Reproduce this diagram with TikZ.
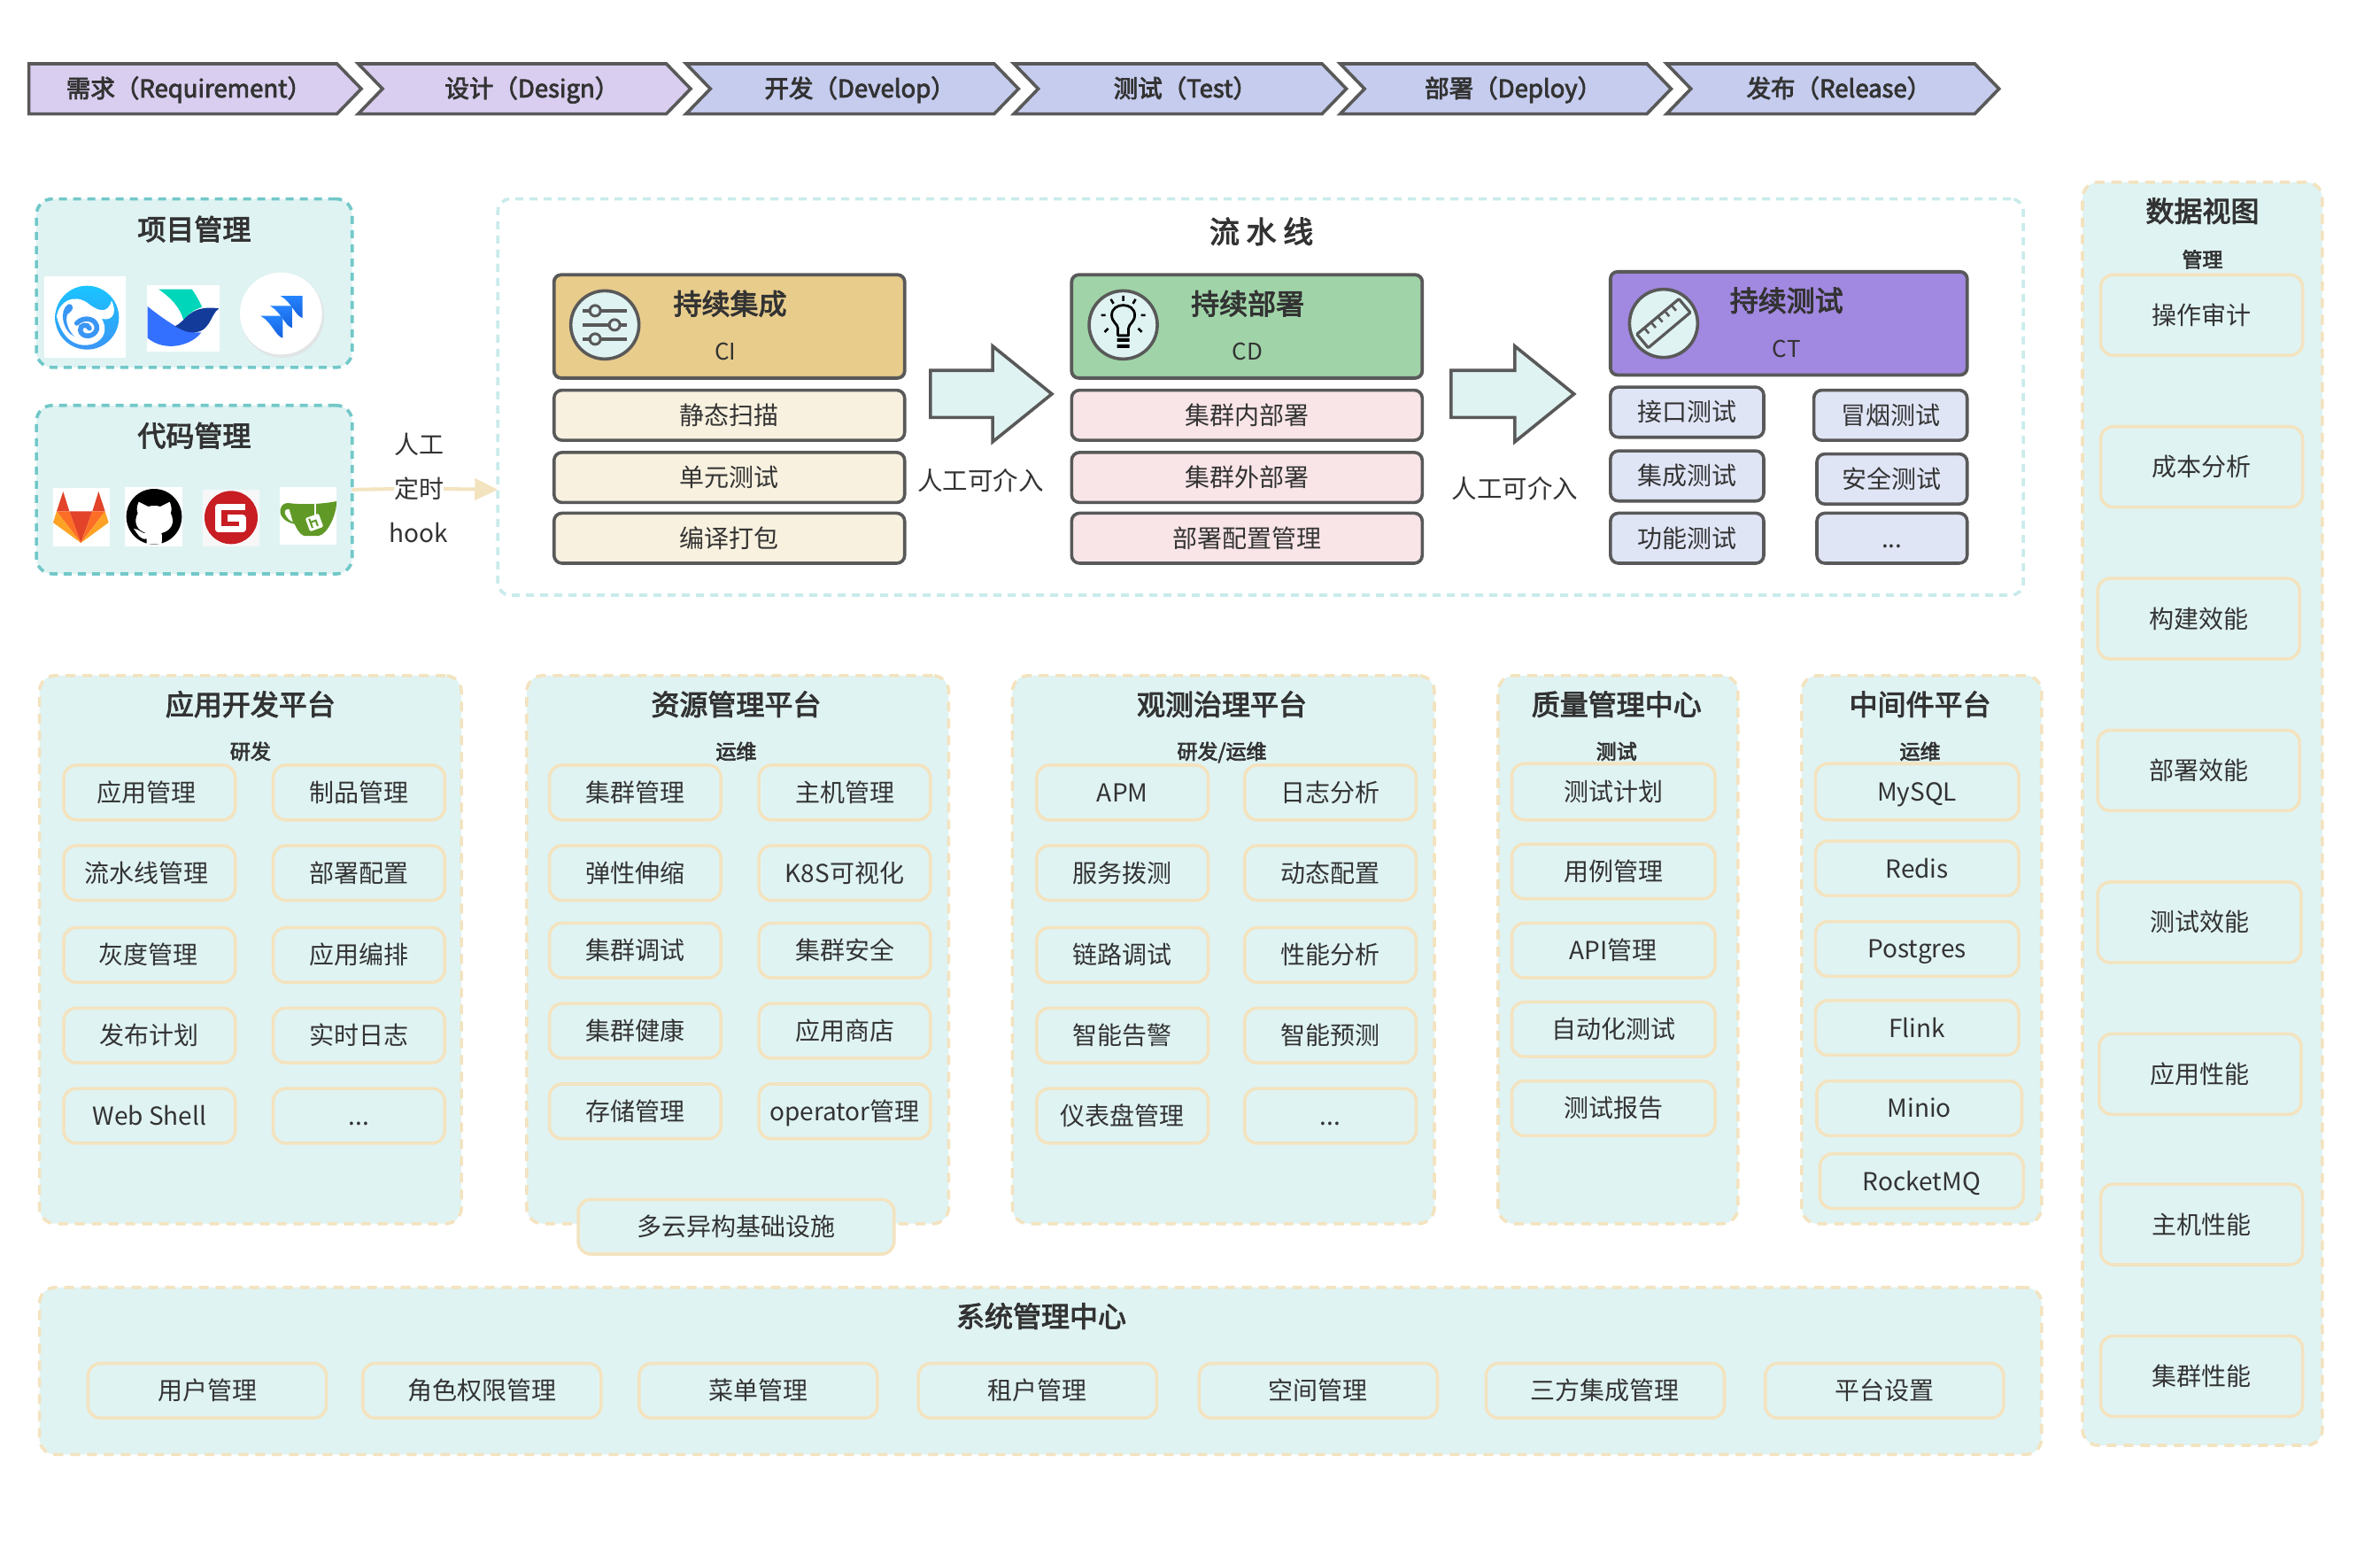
\documentclass[tikz,border=0pt]{standalone}
\usepackage{fontspec}
\setmainfont{Noto Sans CJK SC}
\newfontfamily\medf[FakeBold=3]{Noto Sans CJK SC}
\usetikzlibrary{arrows.meta,calc}
\definecolor{ink}{HTML}{333333}
\definecolor{edge}{HTML}{595959}
\definecolor{teal}{HTML}{E0F3F3}
\definecolor{tealedge}{HTML}{72C8C8}
\definecolor{tealpale}{HTML}{C9EBEB}
\definecolor{beige}{HTML}{F3E3BF}
\definecolor{chevA}{HTML}{D9CEF0}
\definecolor{chevB}{HTML}{C5CCEE}
\definecolor{headCI}{HTML}{E8CC8C}
\definecolor{headCD}{HTML}{A0D4A8}
\definecolor{headCT}{HTML}{A188E0}
\definecolor{itemCI}{HTML}{F8F1DF}
\definecolor{itemCD}{HTML}{F9E5E8}
\definecolor{itemCT}{HTML}{E0E5F6}
\definecolor{swirl}{HTML}{3A96F5}
\definecolor{swirltop}{HTML}{1AC4FF}
\definecolor{birdteal}{HTML}{00D6B9}
\definecolor{birdblue}{HTML}{3370FF}
\definecolor{birddark}{HTML}{133C9A}
\definecolor{jiraA}{HTML}{2684FF}
\definecolor{jiraB}{HTML}{1560DC}
\definecolor{labred}{HTML}{E24329}
\definecolor{laborange}{HTML}{FC6D26}
\definecolor{labyellow}{HTML}{FCA326}
\definecolor{giteered}{HTML}{C71D23}
\definecolor{giteagreen}{HTML}{609926}
\tikzset{
  base/.style={inner sep=0pt,outer sep=0pt,text=ink,align=center,font=\fontsize{28}{32}\selectfont,text height=24.5pt,text depth=3.5pt},
  item/.style={base,draw=beige,fill=teal,line width=3.6pt,rounded corners=14pt},
  plat/.style={base,draw=beige,fill=teal,line width=3.6pt,rounded corners=18pt,dash pattern=on 11pt off 8pt},
  tool/.style={base,draw=tealedge,fill=teal,line width=3.6pt,rounded corners=18pt,dash pattern=on 9pt off 7pt},
  pipe/.style={base,draw=tealpale,fill=white,line width=3.6pt,rounded corners=14pt,dash pattern=on 9pt off 7pt},
  head/.style={base,draw=edge,line width=3.8pt,rounded corners=8pt},
  sub/.style={base,draw=edge,line width=3.6pt,rounded corners=9pt},
  ttl/.style={base,font=\fontsize{32}{36}\medf,text height=28pt,text depth=4pt},
  tiny/.style={base,font=\fontsize{23}{26}\medf,text height=20pt,text depth=3pt},
  lbl/.style={base},
  chev/.style={draw=edge,line width=3.6pt,miter limit=10},
  chevtext/.style={base,font=\fontsize{27.5}{32}\medf},
  ring/.style={circle,draw=edge,fill=teal,line width=3.6pt,minimum size=77pt,inner sep=0pt},
  flow/.style={draw=edge,fill=teal,line width=3.6pt,miter limit=10},
  link/.style={draw=beige,line width=4pt},
  logoscope/.style={x=0.33333pt,y=-0.33333pt},
  pxscope/.style={x=1pt,y=-1pt}
}
% [style]{name}{x0}{y0}{x1}{y1}{text}
\newcommand\bx[7][item]{\node[#1,minimum width={(#5-#3)*1.71429pt},minimum height={(#6-#4)*1.71429pt}] (#2) at ({(#3+#5)/2},{(#4+#6)/2}) {#7};}
\newcommand\chv[7]{% name x0 notch x1 fill cx text
  \path[chev,fill=#5] (#2,42) -- ({#4-16},42) -- (#4,58.5) -- ({#4-16},75) -- (#2,75) -- (#3,58.5) -- cycle;
  \node[chevtext] (#1) at (#6,58) {#7};}
\begin{document}
\begin{tikzpicture}[x=1.71429pt,y=-1.71429pt]
\useasboundingbox (0,0) rectangle (1568,1030.13);
\fill[white] (0,0) rectangle (1568,1030.13);

% phases
\chv{c1}{19}{19}{238}{chevA}{124.5}{需求（Requirement）}
\chv{c2}{236}{252}{455}{chevA}{350.5}{设计（Design）}
\chv{c3}{452}{468}{671}{chevB}{566.5}{开发（Develop）}
\chv{c4}{668}{684}{887}{chevB}{781}{测试（Test）}
\chv{c5}{883}{899}{1101}{chevB}{997}{部署（Deploy）}
\chv{c6}{1098}{1114}{1317}{chevB}{1211.5}{发布（Release）}

% tool groups
\bx[tool]{proj}{24}{131}{232}{242}{}
\node[ttl] (projt) at (128,151) {项目管理};
\bx[tool]{code}{24}{267}{232}{378}{}
\node[ttl] (codet) at (128,287) {代码管理};

% logo: swirl
\begin{scope}[shift={(23.33,175)},logoscope]
\fill[white] (30,36) rectangle (305,312);
\shade[top color=swirltop,bottom color=swirl] (175,176) circle[radius=108];
\fill[white] (72,172) .. controls (80,120) and (130,95) .. (175,125) .. controls (205,150) and (245,170) .. (258,118) .. controls (278,160) and (262,188) .. (225,180) .. controls (245,215) and (235,250) .. (195,265) .. controls (145,280) and (92,255) .. (72,172) -- cycle;
\fill[swirl] (112,130) .. controls (132,130) and (132,150) .. (108,165) .. controls (100,190) and (112,220) .. (132,240) .. controls (92,222) and (78,150) .. (112,130) -- cycle;
\draw[swirl,line width=5.5pt,line cap=round] (140,195) .. controls (165,168) and (212,180) .. (208,215) .. controls (200,245) and (155,245) .. (152,218) .. controls (150,200) and (178,195) .. (183,212);
\end{scope}
% logo: bird
\begin{scope}[shift={(23.33,175)},logoscope]
\fill[white] (378,66) rectangle (623,290);
\fill[birdteal] (418,80) -- (530,80) .. controls (545,100) and (555,120) .. (565,140) .. controls (535,150) and (515,165) .. (503,188) .. controls (490,140) and (460,110) .. (418,80) -- cycle;
\fill[birdblue] (380,138) .. controls (420,170) and (450,190) .. (475,205) .. controls (500,220) and (530,228) .. (562,226) .. controls (530,270) and (440,295) .. (380,245) -- cycle;
\fill[birddark] (473,205) .. controls (510,190) and (520,130) .. (622,145) .. controls (590,165) and (595,235) .. (520,225) .. controls (505,222) and (490,215) .. (473,205) -- cycle;
\end{scope}
% logo: jira disc
\begin{scope}[shift={(23.33,175)},logoscope]
\fill[black!14,opacity=.55] (838,172) circle[radius=140];
\fill[black!10,opacity=.5] (836,168) circle[radius=142];
\fill[white] (832,162) circle[radius=139];
\foreach \dx/\dy in {0/0,-35/34,-67/68}{
\shade[shift={(\dx,\dy)},top color=jiraA,bottom color=jiraB]
 (830,102) -- (905,102) -- (905,177) .. controls (880,170) and (870,125) .. (830,102) -- cycle;}
\end{scope}

% logos in code group
\begin{scope}[shift={(29.17,315)},logoscope]
\fill[white] (29,33) rectangle (222,231);
\fill[labred] (64,45) -- (85,112) -- (42,112) -- cycle (184,45) -- (163,112) -- (206,112) -- cycle;
\fill[labred] (85,112) -- (163,112) -- (124,219) -- cycle;
\fill[laborange] (42,112) -- (85,112) -- (124,219) -- cycle (206,112) -- (163,112) -- (124,219) -- cycle;
\fill[labyellow] (42,112) -- (30,150) -- (124,219) -- cycle (206,112) -- (218,150) -- (124,219) -- cycle;
\fill[white] (274,30) rectangle (467,231);
\begin{scope}
\clip (274,30) rectangle (467,223);
\fill[black] (372,130) circle[radius=94];
\end{scope}
\fill[white] (320,80) -- (352,96) .. controls (365,92) and (380,92) .. (393,96) -- (425,80) .. controls (433,100) and (432,110) .. (428,118) .. controls (445,150) and (430,178) .. (397,186) .. controls (400,195) and (398,210) .. (398,223) -- (347,223) -- (347,205) .. controls (325,210) and (318,190) .. (303,171) .. controls (320,170) and (330,190) .. (347,186) .. controls (315,178) and (300,150) .. (317,118) .. controls (313,110) and (312,100) .. (320,80) -- cycle;
\fill[black!3] (537,40) rectangle (729,231);
\fill[giteered] (633,133) circle[radius=90];
\draw[white,line width=7.5pt,line join=round] (682,97) -- (590,97) -- (590,172) -- (672,172) -- (672,135) -- (622,135);
\fill[white] (799,30) rectangle (991,225);
\fill[giteagreen] (835,85) .. controls (880,90) and (940,88) .. (990,78) .. controls (992,120) and (960,190) .. (930,195) -- (880,195) .. controls (865,190) and (855,170) .. (848,155) .. controls (820,150) and (795,130) .. (800,105) .. controls (805,85) and (820,82) .. (835,85) -- cycle;
\fill[white] (830,105) .. controls (815,103) and (812,115) .. (818,125) .. controls (825,138) and (835,145) .. (842,148) -- cycle;
\draw[white,line width=1.2pt] (918,85) -- (918,125);
\node[fill=white,rounded corners=2pt,minimum size=16pt,inner sep=0pt,rotate=20] (teatag) at (915,150) {};
\draw[giteagreen,line width=2pt,rotate around={20:(915,150)}] (903,132) -- (903,165) (903,145) -- (922,145) -- (922,165);
\end{scope}

% triggers
\node[lbl] (t1) at (276,293) {人工};
\node[lbl] (t2) at (276,322) {定时};
\node[lbl] (t3) at (276,351) {hook};

% pipeline
\bx[pipe]{pipeline}{328}{131}{1333}{392}{}
\node[ttl,font=\fontsize{34}{38}\medf] (pipet) at (831,153) {流 水 线};
\draw[link] (code.east) -- (t2.west);
\draw[link,-{Triangle[length=26pt,width=24pt]}] (t2.east) -- (code.east -| pipeline.west);

% CI
\bx[head,fill=headCI]{ci}{365}{181}{596}{249}{}
\node[ttl] (cit) at (481,200) {持续集成};
\node[lbl,font=\fontsize{26}{30}\selectfont] (cis) at (478,231) {CI};
\bx[sub,fill=itemCI]{ci1}{365}{257}{596}{290}{静态扫描}
\bx[sub,fill=itemCI]{ci2}{365}{298}{596}{331}{单元测试}
\bx[sub,fill=itemCI]{ci3}{365}{338}{596}{371}{编译打包}
\node[ring] (ciicon) at (398.5,214) {};
\begin{scope}[shift={(398.5,214)},pxscope]
\draw[edge,line width=3.6pt] (-25,-16) -- (25,-16) (-25,0) -- (25,0) (-25,16) -- (25,16);
\foreach \cx/\cy in {-11/-16,11/0,-11/16}{\draw[edge,fill=teal,line width=3pt] (\cx,\cy) circle[radius=6];}
\end{scope}

% CD
\bx[head,fill=headCD]{cd}{706}{181}{937}{249}{}
\node[ttl] (cdt) at (822,200) {持续部署};
\node[lbl,font=\fontsize{26}{30}\selectfont] (cds) at (822,231) {CD};
\bx[sub,fill=itemCD]{cd1}{706}{257}{937}{290}{集群内部署}
\bx[sub,fill=itemCD]{cd2}{706}{298}{937}{331}{集群外部署}
\bx[sub,fill=itemCD]{cd3}{706}{338}{937}{371}{部署配置管理}
\node[ring] (cdicon) at (740,214) {};
\begin{scope}[shift={(740,214)},pxscope]
\draw[black,line width=2.8pt,line join=round] (-6,12) -- (-6,4) .. controls (-6,-1) and (-13,-3) .. (-13,-11) .. controls (-13,-26) and (13,-26) .. (13,-11) .. controls (13,-3) and (6,-1) .. (6,4) -- (6,12) -- cycle;
\fill[black] (-7,15) rectangle (7,19) (-7,22) rectangle (7,26);
\draw[black,line width=2.6pt] (0,-33) -- (0,-27) (-14,-29) -- (-11,-24) (14,-29) -- (11,-24) (-25,-11) -- (-20,-11) (25,-11) -- (20,-11) (-21,8) -- (-17,4) (21,8) -- (17,4);
\end{scope}

% CT
\bx[head,fill=headCT]{ct}{1061}{179}{1296}{247}{}
\node[ttl] (ctt) at (1177,198) {持续测试};
\node[lbl,font=\fontsize{26}{30}\selectfont] (cts) at (1177,229) {CT};
\bx[sub,fill=itemCT]{ct1}{1061}{255}{1162}{288}{接口测试}
\bx[sub,fill=itemCT]{ct2}{1061}{297}{1162}{330}{集成测试}
\bx[sub,fill=itemCT]{ct3}{1061}{338}{1162}{371}{功能测试}
\bx[sub,fill=itemCT]{ct4}{1195}{257}{1296}{290}{冒烟测试}
\bx[sub,fill=itemCT]{ct5}{1197}{299}{1296}{332}{安全测试}
\bx[sub,fill=itemCT]{ct6}{1197}{338}{1296}{371}{...}
\node[ring] (cticon) at (1096,213) {};
\begin{scope}[shift={(1096,213)},pxscope,rotate=40]
\draw[edge,line width=3.2pt,rounded corners=1pt] (-31,-10) rectangle (31,10);
\foreach \tx in {-20,-10,0,10,20}{\draw[edge,line width=2.6pt] (\tx,-10) -- (\tx,-2);}
\end{scope}

% flow arrows
\draw[flow] (613,244) -- (654,244) -- (654,228) -- (693,259.5) -- (654,291) -- (654,275) -- (613,275) -- cycle;
\draw[flow] (956,244) -- (998,244) -- (998,228) -- (1037,259.5) -- (998,291) -- (998,275) -- (956,275) -- cycle;
\node[lbl,font=\fontsize{28.5}{32}\selectfont] (man1) at (646,317) {人工可介入};
\node[lbl,font=\fontsize{28.5}{32}\selectfont] (man2) at (998,322) {人工可介入};

% 应用开发平台
\bx[plat]{pa}{26}{445}{304}{806}{}
\node[ttl] (pat) at (165,464) {应用开发平台};
\node[tiny] (pas) at (165,495) {研发};
\bx{a1}{42}{504}{155}{540}{应用管理\hspace{7pt}}
\bx{a2}{180}{504}{293}{540}{制品管理}
\bx{a3}{42}{557}{155}{593}{流水线管理\hspace{6pt}}
\bx{a4}{180}{557}{293}{593}{部署配置}
\bx{a5}{42}{611}{155}{647}{灰度管理\hspace{3pt}}
\bx{a6}{180}{611}{293}{647}{应用编排}
\bx{a7}{42}{664}{155}{700}{发布计划}
\bx{a8}{180}{664}{293}{700}{实时日志}
\bx{a9}{42}{717}{155}{753}{Web Shell}
\bx{a10}{180}{717}{293}{753}{...}

% 资源管理平台
\bx[plat]{pb}{347}{445}{625}{806}{}
\node[ttl] (pbt) at (485,464) {资源管理平台};
\node[tiny] (pbs) at (485,495) {运维};
\bx{b1}{362}{504}{475}{540}{集群管理}
\bx{b2}{500}{504}{613}{540}{主机管理}
\bx{b3}{362}{557}{475}{593}{弹性伸缩}
\bx{b4}{500}{557}{613}{593}{K8S可视化}
\bx{b5}{362}{608}{475}{644}{集群调试}
\bx{b6}{500}{608}{613}{644}{集群安全}
\bx{b7}{362}{661}{475}{697}{集群健康}
\bx{b8}{500}{661}{613}{697}{应用商店}
\bx{b9}{362}{714}{475}{750}{存储管理}
\bx{b10}{500}{714}{613}{750}{operator管理}
\bx{b11}{381}{790}{589}{826}{多云异构基础设施}

% 观测治理平台
\bx[plat]{pc}{667}{445}{945}{806}{}
\node[ttl] (pct) at (805,464) {观测治理平台};
\node[tiny] (pcs) at (805,495) {研发/运维};
\bx{o1}{683}{504}{796}{540}{APM}
\bx{o2}{820}{504}{933}{540}{日志分析}
\bx{o3}{683}{557}{796}{593}{服务拨测}
\bx{o4}{820}{557}{933}{593}{动态配置}
\bx{o5}{683}{611}{796}{647}{链路调试}
\bx{o6}{820}{611}{933}{647}{性能分析}
\bx{o7}{683}{664}{796}{700}{智能告警}
\bx{o8}{820}{664}{933}{700}{智能预测}
\bx{o9}{683}{717}{796}{753}{仪表盘管理}
\bx{o10}{820}{717}{933}{753}{...}

% 质量管理中心
\bx[plat]{pd}{987}{445}{1145}{806}{}
\node[ttl] (pdt) at (1065,464) {质量管理中心};
\node[tiny] (pds) at (1065,495) {测试};
\bx{q1}{996}{503}{1130}{540}{测试计划}
\bx{q2}{996}{556}{1130}{592}{用例管理}
\bx{q3}{996}{608}{1130}{644}{API管理}
\bx{q4}{996}{660}{1130}{696}{自动化测试}
\bx{q5}{996}{712}{1130}{748}{测试报告}

% 中间件平台
\bx[plat]{pe}{1187}{445}{1345}{806}{}
\node[ttl] (pet) at (1265,464) {中间件平台};
\node[tiny] (pes) at (1265,495) {运维};
\bx{m1}{1196}{503}{1330}{540}{MySQL}
\bx{m2}{1196}{554}{1330}{590}{Redis}
\bx{m3}{1196}{607}{1330}{643}{Postgres}
\bx{m4}{1196}{659}{1330}{695}{Flink}
\bx{m5}{1197}{712}{1332}{748}{Minio}
\bx{m6}{1199}{760}{1333}{796}{RocketMQ}

% 系统管理中心
\bx[plat]{ps}{26}{848}{1345}{958}{}
\node[ttl] (pst) at (686,867) {系统管理中心};
\bx{s1}{58}{898}{215}{934}{用户管理}
\bx{s2}{239}{898}{396}{934}{角色权限管理}
\bx{s3}{421}{898}{578}{934}{菜单管理}
\bx{s4}{605}{898}{762}{934}{租户管理}
\bx{s5}{790}{898}{947}{934}{空间管理}
\bx{s6}{979}{898}{1136}{934}{三方集成管理}
\bx{s7}{1163}{898}{1320}{934}{平台设置}

% 数据视图
\bx[plat]{pv}{1372}{120}{1530}{952}{}
\node[ttl] (pvt) at (1451,139) {数据视图};
\node[tiny] (pvs) at (1451,171) {管理};
\bx{v1}{1384}{181}{1517}{234}{操作审计}
\bx{v2}{1384}{281}{1517}{334}{成本分析}
\bx{v3}{1382}{381}{1515}{434}{构建效能}
\bx{v4}{1382}{481}{1515}{534}{部署效能}
\bx{v5}{1382}{581}{1516}{634}{测试效能}
\bx{v6}{1383}{681}{1516}{734}{应用性能}
\bx{v7}{1384}{780}{1517}{833}{主机性能}
\bx{v8}{1384}{880}{1517}{933}{集群性能}
\end{tikzpicture}
\end{document}
